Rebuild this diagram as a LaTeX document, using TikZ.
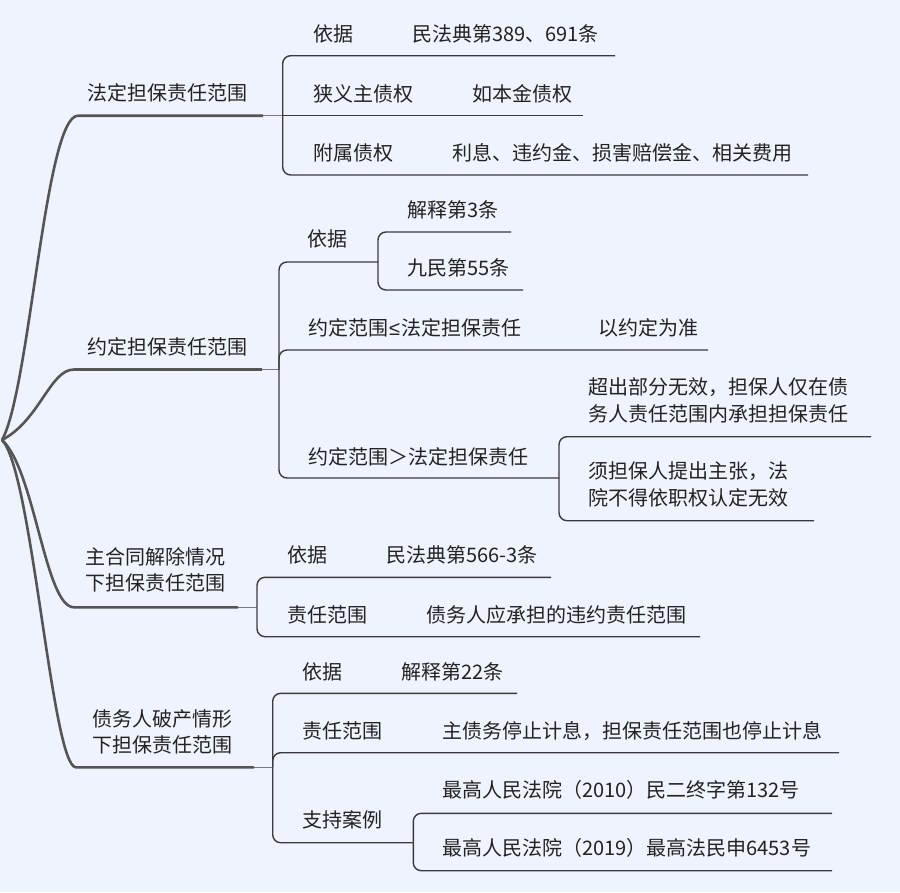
\documentclass[tikz,border=0pt]{standalone}
\usepackage{fontspec}
\newfontfamily\cjk{Noto Sans CJK SC}
\newfontfamily\latsym{Liberation Sans}
\definecolor{bg}{HTML}{EEF3FE}
\definecolor{lnA}{HTML}{555555}
\definecolor{lnB}{HTML}{3A3A3A}
\definecolor{lnJ}{HTML}{7A7A7A}
\definecolor{ink}{HTML}{222222}
\begin{document}
\begin{tikzpicture}[x=1pt,y=-1pt,
 txt/.style={anchor=west,inner sep=0pt,text=ink,font=\cjk\fontsize{20}{26.5}\selectfont,align=left},
 lone/.style={draw=lnA,line width=2.6pt},
 ljoin/.style={draw=lnJ,line width=1.4pt},
 ltwo/.style={draw=lnB,line width=1.4pt,rounded corners=8pt},
]
\fill[bg] (0,0) rectangle (900,892);
\useasboundingbox (0,0) rectangle (900,892);
\coordinate (root) at (2,440);

% ---------- branch 1
\node[txt] (A) at (87,93) {法定担保责任范围};
\coordinate (Ac) at (78,115.7);
\coordinate (Ae) at (263,115.7);
\coordinate (Aj) at (282.7,115.7);
\draw[lone] (root) .. controls (30,390) and (45,115.7) .. (Ac) -- (Ae);
\draw[ljoin] (Ae) -- (Aj);
\node[txt] (A1) at (313,34) {依据};
\node[txt] (A1v) at (412,34) {民法典第389、691条};
\coordinate (A1e) at (615,55.7);
\node[txt] (A2) at (313,94) {狭义主债权};
\node[txt] (A2v) at (472,94) {如本金债权};
\coordinate (A2e) at (583,115.7);
\node[txt] (A3) at (313,153) {附属债权};
\node[txt] (A3v) at (452,153) {利息、违约金、损害赔偿金、相关费用};
\coordinate (A3e) at (808,175);
\draw[ltwo] (Aj) |- (A1e);
\draw[ltwo] (Aj) -- (A2e);
\draw[ltwo] (Aj) |- (A3e);

% ---------- branch 2
\node[txt] (B) at (87,347) {约定担保责任范围};
\coordinate (Bc) at (74,369.5);
\coordinate (Be) at (262,369.5);
\coordinate (Bj) at (279,369.5);
\draw[lone] (root) .. controls (40,420) and (50,369.5) .. (Bc) -- (Be);
\draw[ljoin] (Be) -- (Bj);
\node[txt] (B1) at (307,239) {依据};
\coordinate (B1j) at (378,262);
\node[txt] (B1a) at (407,210) {解释第3条};
\coordinate (B1ae) at (511,232);
\node[txt] (B1b) at (407,268) {九民第55条};
\coordinate (B1be) at (523,290);
\node[txt] (B2) at (308,328) {约定范围{\latsym\kern1pt≤\kern1pt}法定担保责任};
\node[txt] (B2v) at (598,328) {以约定为准};
\coordinate (B2e) at (708,350);
\node[txt] (B3) at (308,457) {约定范围＞法定担保责任};
\coordinate (B3j) at (559,478);
\node[txt] (B3a) at (588,400.5) {超出部分无效，担保人仅在债\\务人责任范围内承担担保责任};
\coordinate (B3ae) at (871,436.7);
\node[txt] (B3b) at (588,484.5) {须担保人提出主张，法\\院不得依职权认定无效};
\coordinate (B3be) at (814,520.7);
\draw[ltwo] (Bj) |- (B1j);
\draw[ltwo] (Bj) |- (B2e);
\draw[ltwo] (Bj) |- (B3j);
\draw[ltwo] (B1j) |- (B1ae);
\draw[ltwo] (B1j) |- (B1be);
\draw[ltwo] (B3j) |- (B3ae);
\draw[ltwo] (B3j) |- (B3be);

% ---------- branch 3
\node[txt] (C) at (85,570) {主合同解除情况\\下担保责任范围};
\coordinate (Cc) at (74,607.3);
\coordinate (Ce) at (238,607.3);
\coordinate (Cj) at (257,607.3);
\draw[lone] (root) .. controls (35,470) and (45,607.3) .. (Cc) -- (Ce);
\draw[ljoin] (Ce) -- (Cj);
\node[txt] (C1) at (287,555) {依据};
\node[txt] (C1v) at (386,555) {民法典第566-3条};
\coordinate (C1e) at (551,577.3);
\node[txt] (C2) at (287,615) {责任范围};
\node[txt] (C2v) at (426,615) {债务人应承担的违约责任范围};
\coordinate (C2e) at (700,636.7);
\draw[ltwo] (Cj) |- (C1e);
\draw[ltwo] (Cj) |- (C2e);

% ---------- branch 4
\node[txt] (D) at (92,732) {债务人破产情形\\下担保责任范围};
\coordinate (Dc) at (76,767.3);
\coordinate (De) at (254,767.3);
\coordinate (Dj) at (272.7,767.3);
\draw[lone] (root) .. controls (32,470) and (52,767.3) .. (Dc) -- (De);
\draw[ljoin] (De) -- (Dj);
\node[txt] (D1) at (302.5,671.7) {依据};
\node[txt] (D1v) at (401,671.7) {解释第22条};
\coordinate (D1e) at (517,693.3);
\node[txt] (D2) at (302.5,730.7) {责任范围};
\node[txt] (D2v) at (442,730.7) {主债务停止计息，担保责任范围也停止计息};
\coordinate (D2e) at (839,752.7);
\node[txt] (D3) at (302.5,820) {支持案例};
\coordinate (D3j) at (413.3,842.7);
\node[txt] (D3a) at (442,790) {最高人民法院（2010）民二终字第132号};
\coordinate (D3ae) at (832,813.3);
\node[txt] (D3b) at (442,848.3) {最高人民法院（2019）最高法民申6453号};
\coordinate (D3be) at (832,870.7);
\draw[ltwo] (Dj) |- (D1e);
\draw[ltwo] (Dj) |- (D2e);
\draw[ltwo] (Dj) |- (D3j);
\draw[ltwo] (D3j) |- (D3ae);
\draw[ltwo] (D3j) |- (D3be);
\end{tikzpicture}
\end{document}
